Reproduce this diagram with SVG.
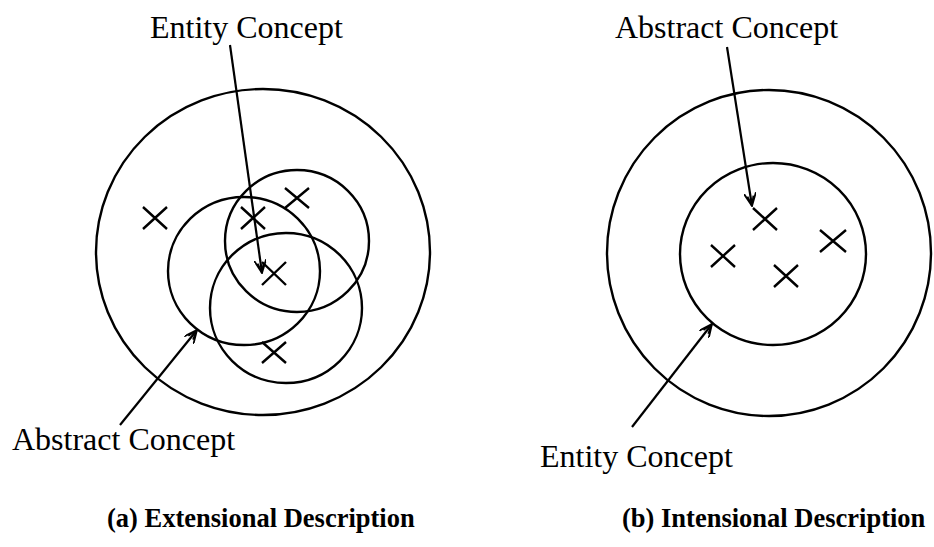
<svg xmlns="http://www.w3.org/2000/svg" width="934" height="547" viewBox="0 0 934 547">
<defs>
<style>
.c{fill:none;stroke:#000;stroke-width:2.4}
.x{stroke:#000;stroke-width:2.4;fill:none}
.a{stroke:#000;stroke-width:2.2;fill:none}
.t{font-family:"Liberation Serif","Times New Roman",serif;font-size:32px;fill:#000}
.cap{font-family:"Liberation Serif","Times New Roman",serif;font-size:26.5px;font-weight:bold;fill:#000}
</style>
<marker id="ah" viewBox="0 0 14 12" refX="13" refY="6" markerWidth="14" markerHeight="12" markerUnits="userSpaceOnUse" orient="auto">
<path d="M0,0 L13,6 L0,12 M3,3 L13,6 L3,9" fill="none" stroke="#000" stroke-width="1.8"/>
</marker>
</defs>
<rect width="934" height="547" fill="#fff"/>

<g id="left-diagram">
<g id="outer-a"><ellipse class="c" cx="263" cy="252" rx="167" ry="163"/></g>
<g id="abstract-circle-a"><ellipse class="c" cx="244" cy="271" rx="76" ry="74"/></g>
<g id="circle-b"><ellipse class="c" cx="297" cy="241" rx="72" ry="71"/></g>
<g id="circle-c"><ellipse class="c" cx="286" cy="308" rx="76" ry="75"/></g>
<g id="crosses-a">
<path class="x" d="M143,207 L167,229 M167,207 L143,229"/>
<path class="x" d="M241,207 L265,229 M265,207 L241,229"/>
<path class="x" d="M285,188 L309,208 M309,188 L285,208"/>
<path class="x" d="M262,262 L286,285 M286,262 L262,285"/>
<path class="x" d="M262,342 L286,363 M286,342 L262,363"/>
</g>
</g>

<g id="right-diagram">
<g id="outer-b"><ellipse class="c" cx="769" cy="253" rx="162" ry="163"/></g>
<g id="inner-b"><ellipse class="c" cx="773" cy="254" rx="93" ry="91"/></g>
<g id="crosses-b">
<path class="x" d="M753,208 L777,230 M777,208 L753,230"/>
<path class="x" d="M711,245 L735,267 M735,245 L711,267"/>
<path class="x" d="M820,230 L846,252 M846,230 L820,252"/>
<path class="x" d="M774,265 L798,287 M798,265 L774,287"/>
</g>
</g>

<g id="connectors">
<line class="a" x1="230" y1="45" x2="262" y2="273" marker-end="url(#ah)"/>
<line class="a" x1="120" y1="425" x2="197" y2="330" marker-end="url(#ah)"/>
<line class="a" x1="727" y1="47" x2="752" y2="206" marker-end="url(#ah)"/>
<line class="a" x1="632" y1="427" x2="712" y2="324" marker-end="url(#ah)"/>
</g>

<g id="labels">
<text class="t" x="150" y="38">Entity Concept</text>
<text class="t" x="12" y="450">Abstract Concept</text>
<text class="t" x="615" y="38">Abstract Concept</text>
<text class="t" x="540" y="467">Entity Concept</text>
<text class="cap" x="107" y="527">(a) Extensional Description</text>
<text class="cap" x="622" y="527">(b) Intensional Description</text>
</g>
</svg>
